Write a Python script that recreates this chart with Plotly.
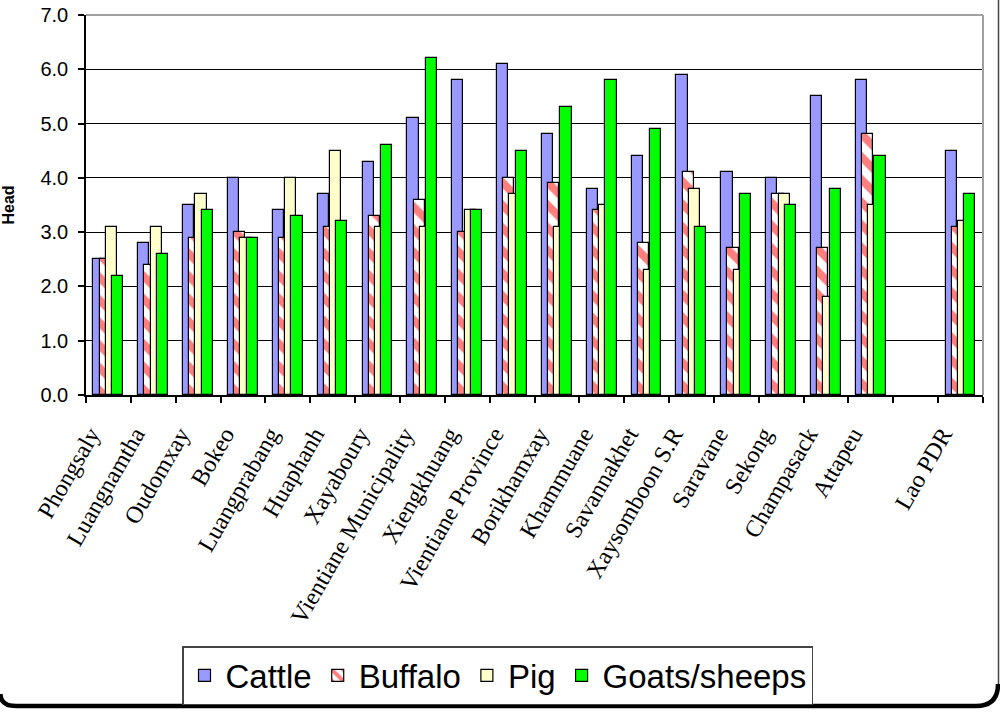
import plotly.graph_objects as go

categories = ["Phongsaly", "Luangnamtha", "Oudomxay", "Bokeo", "Luangprabang", "Huaphanh",
              "Xayaboury", "Vientiane Municipality", "Xiengkhuang", "Vientiane Province",
              "Borikhamxay", "Khammuane", "Savannakhet", "Xaysomboon S.R", "Saravane",
              "Sekong", "Champasack", "Attapeu", " ", "Lao PDR"]
cattle = [2.5, 2.8, 3.5, 4.0, 3.4, 3.7, 4.3, 5.1, 5.8, 6.1, 4.8, 3.8, 4.4, 5.9, 4.1, 4.0, 5.5, 5.8, None, 4.5]
buffalo = [2.5, 2.4, 2.9, 3.0, 2.9, 3.1, 3.3, 3.6, 3.0, 4.0, 3.9, 3.4, 2.8, 4.1, 2.7, 3.7, 2.7, 4.8, None, 3.1]
pig = [3.1, 3.1, 3.7, 2.9, 4.0, 4.5, 3.1, 3.1, 3.4, 3.7, 3.1, 3.5, 2.3, 3.8, 2.3, 3.7, 1.8, 3.5, None, 3.2]
goats = [2.2, 2.6, 3.4, 2.9, 3.3, 3.2, 4.6, 6.2, 3.4, 4.5, 5.3, 5.8, 4.9, 3.1, 3.7, 3.5, 3.8, 4.4, None, 3.7]
y_ticks = [0, 1, 2, 3, 4, 5, 6, 7]

# the page body margin is removed (post_script), so the figure sits at (0, 0)
W, H = 1000, 713
PLOT_L, PLOT_R, PLOT_T, PLOT_B = 86, 983, 15, 395      # page pixels
L, T = PLOT_L, PLOT_T
R, B = W - PLOT_R, H - PLOT_B
PW, PH = PLOT_R - PLOT_L, PLOT_B - PLOT_T


def px(x):
    return (x - PLOT_L) / PW


def py(y):
    return (PLOT_B - y) / PH


bw = 0.25
offsets = [-0.335, -0.197, -0.059, 0.079]
line = dict(color="black", width=1.2)

fig = go.Figure()
fig.add_trace(go.Bar(name="Cattle", x=categories, y=cattle, width=bw, offset=offsets[0],
                     marker=dict(color="#9999FF", line=line)))
fig.add_trace(go.Bar(name="Buffalo", x=categories, y=buffalo, width=bw, offset=offsets[1],
                     marker=dict(color="white", line=line,
                                 pattern=dict(shape="\\", fgcolor="#FF0000", bgcolor="white",
                                              size=16, solidity=0.5, fillmode="overlay"))))
fig.add_trace(go.Bar(name="Pig", x=categories, y=pig, width=bw, offset=offsets[2],
                     marker=dict(color="#FFFFCC", line=line)))
fig.add_trace(go.Bar(name="Goats/sheeps", x=categories, y=goats, width=bw, offset=offsets[3],
                     marker=dict(color="#00FF00", line=line)))

shapes = [
    # plot area top and right border (gray)
    dict(type="line", xref="paper", yref="paper", x0=0, x1=1, y0=1, y1=1,
         line=dict(color="#A0A0A0", width=2), layer="above"),
    dict(type="line", xref="paper", yref="paper", x0=1, x1=1, y0=0, y1=1,
         line=dict(color="#A0A0A0", width=2), layer="above"),
    # chart frame: right edge
    dict(type="path", xref="paper", yref="paper",
         path=f"M {px(998.5)},{py(0)} L {px(998.5)},{py(685)}",
         line=dict(color="#444444", width=1.5)),
    # chart frame: bottom with rounded corners
    dict(type="path", xref="paper", yref="paper",
         path=(f"M {px(998)},{py(684)} Q {px(998)},{py(706)} {px(976)},{py(706)} "
               f"L {px(16)},{py(706)} Q {px(0.5)},{py(706)} {px(0.5)},{py(694)}"),
         line=dict(color="black", width=4.5)),
]

fig.update_layout(
    width=W, height=H,
    margin=dict(l=L, r=R, t=T, b=B, autoexpand=False),
    paper_bgcolor="white", plot_bgcolor="white",
    barmode="overlay",
    bargap=0,
    showlegend=True,
    legend=dict(orientation="h", x=px(182), y=py(646), xanchor="left", yanchor="top",
                bordercolor="#444444", borderwidth=1.5, bgcolor="white",
                font=dict(family="Liberation Sans, Arial", size=33, color="black"),
                traceorder="normal", itemwidth=32),
    shapes=shapes,
    xaxis=dict(type="category", categoryorder="array", categoryarray=categories,
               tickson="boundaries", ticks="outside", ticklen=6, tickcolor="black", tickwidth=1.5,
               showline=True, linecolor="black", linewidth=1.5, showgrid=False,
               tickangle=-60, ticklabelstandoff=14, ticklabelshift=-18,
               tickfont=dict(family="Liberation Serif, Times New Roman", size=24, color="black"),
               range=[-0.5, len(categories) - 0.5], automargin=False),
    yaxis=dict(range=[0, 7], tickvals=y_ticks, tickformat=".1f",
               ticks="outside", ticklen=6, tickcolor="black", tickwidth=1.5,
               showline=True, linecolor="black", linewidth=1.5,
               showgrid=True, gridcolor="black", gridwidth=1, zeroline=False,
               ticklabelstandoff=6, ticklabeloverflow="allow",
               tickfont=dict(family="Liberation Sans, Arial", size=20, color="black"),
               title=dict(text="<b>Head</b>", standoff=24,
                          font=dict(family="Liberation Sans, Arial", size=16, color="black")),
               automargin=False),
)

fig.write_html("out.html", config={"displayModeBar": False},
               post_script="document.body.style.margin='0';document.body.style.overflow='hidden';")
